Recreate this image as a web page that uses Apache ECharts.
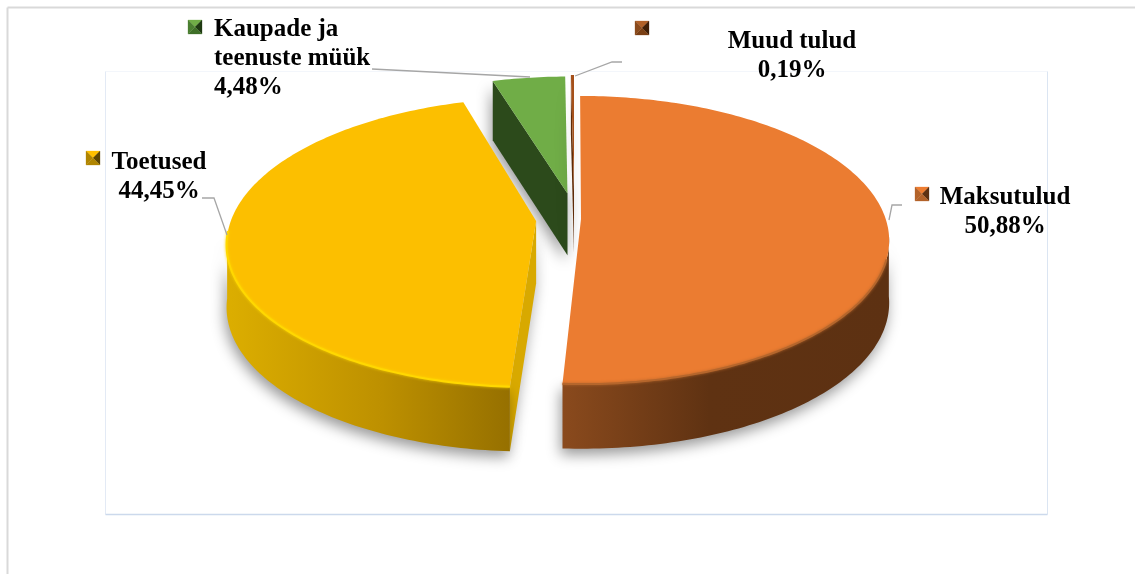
<!DOCTYPE html>
<html>
<head>
<meta charset="utf-8">
<style>
  html, body { margin: 0; padding: 0; background: #fff; }
  #chart { width: 1135px; height: 574px; }
</style>
<script src="https://cdn.jsdelivr.net/npm/echarts@6/dist/echarts.min.js"></script>
</head>
<body>
<div id="chart"></div>
<script>
const categories = ['Maksutulud', 'Toetused', 'Kaupade ja teenuste müük', 'Muud tulud'];
const shares = [50.88, 44.45, 4.48, 0.19];
const labelNames = ['Maksutulud', 'Toetused', 'Kaupade ja\nteenuste müük', 'Muud tulud'];

// how far each slice is pulled out, in the pie plane, as a fraction of the radius
const explode = [[0.023, 0], [-0.124, -0.015], [-0.022, 0.185], [0, 0.2]];
const paintOrder = [4, 3, 1, 2];

const topColors = ['#eb7c31', '#fcbf00', '#70ad47', '#a5501a'];
const cutColors = ['#6b3815', '#d8a900', '#2c4a1b', '#5e2b08'];
const rimColors = ['#b5662c', '#ffd800', null, null];
const sideStops = [
  [[0, '#8a4a1d'], [0.45, '#5f3212'], [1, '#5d3112']],
  [[0, '#dcae00'], [0.55, '#bd9000'], [1, '#967000']],
  null,
  null
];

// projection of the pie plane onto the screen
const view = { cx: 574, cy: 219, a: 304.7, b: 141, k: 0.146, depth: 62, depthK: 0.04 };

const labelPos = [
  { x: 1005, y: 212, align: 'center' },
  { x: 159, y: 177, align: 'center' },
  { x: 214, y: 59, align: 'left' },
  { x: 792, y: 56, align: 'center' }
];
const swatchPos = [[915, 187], [86, 151], [188, 20], [635, 21]];
// top, right, bottom, left facet of each legend key
const swatchColors = [
  ['#ed7d31', '#5d3112', '#b3632a', '#b3632a'],
  ['#ffc000', '#5e4700', '#b08500', '#b08500'],
  ['#70ad47', '#1f3a12', '#3f7028', '#4a7f30'],
  ['#b06028', '#3f1e06', '#7a3f14', '#8a4a1c']
];
const leaders = [
  [[889, 220], [892, 205], [902, 205]],
  [[227, 235], [214, 198], [202, 198]],
  [[530, 77], [372, 69]],
  [[575, 76], [612, 62], [622, 62]]
];

function project(u, v, down) {
  const w = 1 + view.k * v;
  return [
    view.cx + view.a * u / w,
    view.cy - view.b * v / w + (down ? view.depth / (1 + view.depthK * v) : 0)
  ];
}

function rad(d) { return d * Math.PI / 180; }

function arcPoints(off, from, to, down) {
  const pts = [];
  const n = Math.max(2, Math.ceil(Math.abs(to - from)));
  for (let i = 0; i <= n; i++) {
    const t = rad(from + (to - from) * i / n);
    pts.push(project(off[0] + Math.sin(t), off[1] + Math.cos(t), down));
  }
  return pts;
}

function renderSlice(params, api) {
  const i = params.dataIndex;
  let start = 0;
  for (let j = 0; j < i; j++) start += shares[j] * 3.6;
  const end = start + api.value(0) * 3.6;
  const off = explode[i];
  const z = paintOrder[i] * 10;
  const shadow = { shadowBlur: 14, shadowColor: 'rgba(0,0,0,0.4)', shadowOffsetX: -2, shadowOffsetY: 6 };
  const children = [];

  const cutFace = (angle) => {
    const t = rad(angle);
    const u = off[0] + Math.sin(t), v = off[1] + Math.cos(t);
    children.push({
      type: 'polygon',
      z2: z + 1,
      shape: { points: [project(off[0], off[1]), project(u, v), project(u, v, true), project(off[0], off[1], true)] },
      style: Object.assign({ fill: cutColors[i] }, shadow)
    });
  };
  if (Math.sin(rad(start)) < -0.001) cutFace(start);
  if (Math.sin(rad(end)) > 0.001) cutFace(end);

  // outer wall, only the part that faces the viewer
  const wallFrom = Math.max(start, 96);
  const wallTo = Math.min(end, 264);
  if (sideStops[i] && wallTo > wallFrom) {
    const top = arcPoints(off, wallFrom, wallTo);
    const bottom = arcPoints(off, wallFrom, wallTo, true).reverse();
    children.push({
      type: 'polygon',
      z2: z + 2,
      shape: { points: top.concat(bottom) },
      style: Object.assign({
        fill: new echarts.graphic.LinearGradient(0, 0, 1, 0, sideStops[i].map(s => ({ offset: s[0], color: s[1] })))
      }, shadow)
    });
  }

  const facePts = [project(off[0], off[1])].concat(arcPoints(off, start, end));
  children.push({
    type: 'polygon',
    z2: z + 3,
    shape: { points: facePts },
    style: { fill: topColors[i] }
  });

  if (rimColors[i]) {
    children.push({
      type: 'polyline',
      z2: z + 4,
      shape: { points: arcPoints(off, Math.max(start, 106), Math.min(end, 266)) },
      style: { fill: null, stroke: rimColors[i], lineWidth: 2, shadowBlur: 3, shadowColor: rimColors[i] }
    });
  }
  return { type: 'group', children };
}

function frameLine(x1, y1, x2, y2, stroke, lineWidth) {
  return { type: 'line', silent: true, shape: { x1, y1, x2, y2 }, style: { stroke, lineWidth } };
}

function swatch(i) {
  const [x, y] = swatchPos[i];
  const s = 14, c = swatchColors[i];
  const mx = x + s / 2, my = y + s / 2;
  const corners = [[x, y], [x + s, y], [x + s, y + s], [x, y + s]];
  return [0, 1, 2, 3].map(k => ({
    type: 'polygon',
    silent: true,
    shape: { points: [corners[k], corners[(k + 1) % 4], [mx, my]] },
    style: { fill: c[k], stroke: c[k], lineWidth: 0.3 }
  }));
}

function labelText(i) {
  const value = shares[i].toFixed(2).replace('.', ',') + '%';
  return {
    type: 'text',
    silent: true,
    x: labelPos[i].x,
    y: labelPos[i].y,
    style: {
      text: labelNames[i] + '\n' + value,
      font: 'bold 25px "Liberation Serif"',
      lineHeight: 29,
      fill: '#000',
      align: labelPos[i].align,
      verticalAlign: 'middle'
    }
  };
}

const graphics = [
  frameLine(7.5, 7.5, 1135, 7.5, '#d9d9d9', 2),
  frameLine(7.5, 7.5, 7.5, 574, '#d9d9d9', 2),
  frameLine(105.5, 71.5, 1047.5, 71.5, '#f3f6fb', 1),
  frameLine(105.5, 71.5, 105.5, 514.5, '#e3eaf5', 1),
  frameLine(1047.5, 71.5, 1047.5, 514.5, '#dbe5f2', 1),
  frameLine(105.5, 514.5, 1047.5, 514.5, '#ccd9ec', 1.5)
];
leaders.forEach(points => graphics.push({
  type: 'polyline',
  silent: true,
  z: 10,
  shape: { points },
  style: { fill: null, stroke: '#a6a6a6', lineWidth: 1.3 }
}));
categories.forEach((c, i) => {
  graphics.push(...swatch(i));
  graphics.push(labelText(i));
});

const chart = echarts.init(document.getElementById('chart'));
chart.setOption({
  animation: false,
  backgroundColor: '#fff',
  graphic: graphics,
  series: [{
    type: 'custom',
    coordinateSystem: 'none',
    renderItem: renderSlice,
    data: shares.map((v, i) => ({ name: categories[i], value: [v] }))
  }]
});
</script>
</body>
</html>
